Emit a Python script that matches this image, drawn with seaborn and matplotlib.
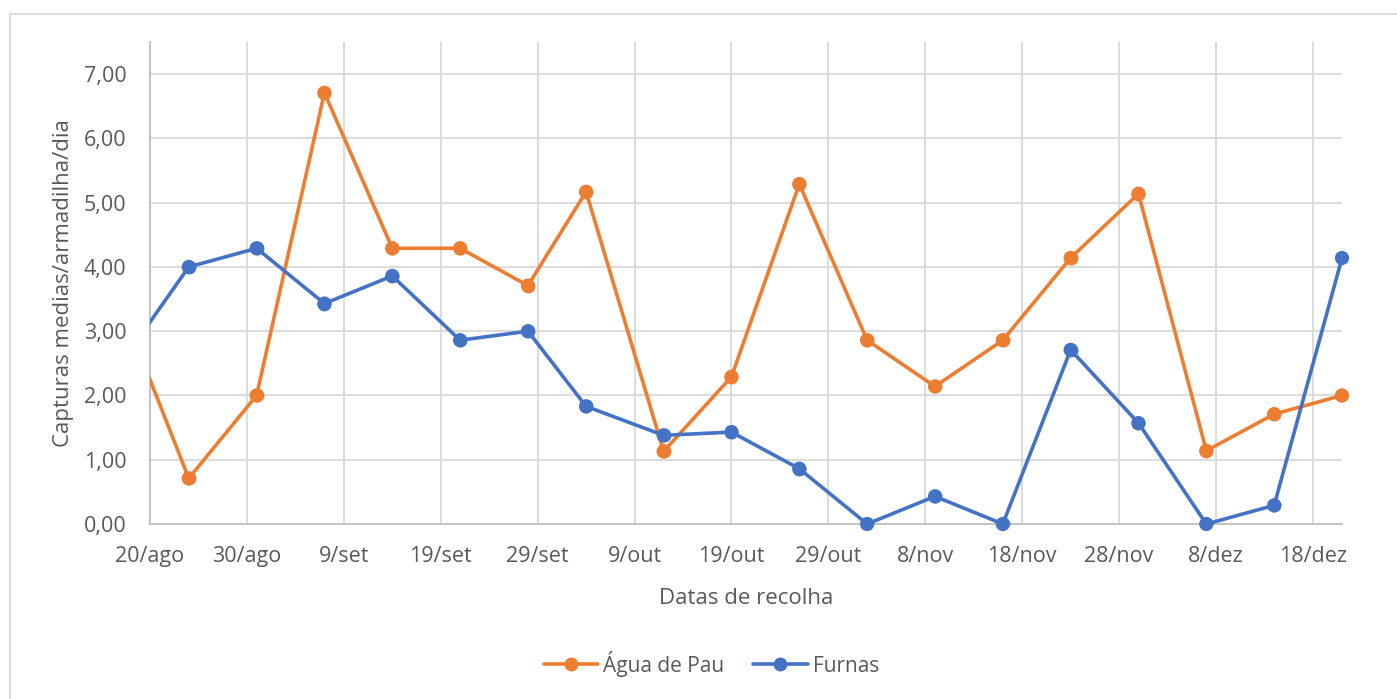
import matplotlib
matplotlib.use("Agg")
import matplotlib.pyplot as plt
from matplotlib.patches import Rectangle
import seaborn as sns
import pandas as pd

# ---- data ----
dates = ["2019-08-17", "2019-08-24", "2019-08-31", "2019-09-07", "2019-09-14", "2019-09-21",
         "2019-09-28", "2019-10-04", "2019-10-12", "2019-10-19", "2019-10-26", "2019-11-02",
         "2019-11-09", "2019-11-16", "2019-11-23", "2019-11-30", "2019-12-07", "2019-12-14",
         "2019-12-21"]
agua_de_pau = [3.40, 0.71, 2.00, 6.71, 4.29, 4.29, 3.71, 5.17, 1.13, 2.29, 5.29, 2.86,
               2.14, 2.86, 4.14, 5.14, 1.14, 1.71, 2.00]
furnas = [2.50, 4.00, 4.29, 3.43, 3.86, 2.86, 3.00, 1.83, 1.38, 1.43, 0.86, 0.00,
          0.43, 0.00, 2.71, 1.57, 0.00, 0.29, 4.14]
series_names = ["Água de Pau", "Furnas"]
tick_dates = pd.date_range("2019-08-20", "2019-12-18", freq="10D")
tick_labels = ["20/ago", "30/ago", "9/set", "19/set", "29/set", "9/out", "19/out",
               "29/out", "8/nov", "18/nov", "28/nov", "8/dez", "18/dez"]
y_ticks = [0, 1, 2, 3, 4, 5, 6, 7]
x_label = "Datas de recolha"
y_label = "Capturas medias/armadilha/dia"

colors = {"Água de Pau": "#ED7D31", "Furnas": "#4472C4"}

df = pd.DataFrame({"data": pd.to_datetime(dates), "Água de Pau": agua_de_pau, "Furnas": furnas})
long = df.melt(id_vars="data", var_name="serie", value_name="valor")

sns.set_theme(style="white")
plt.rcParams["font.family"] = ["Open Sans", "DejaVu Sans"]
text_color = "#595959"

fig = plt.figure(figsize=(13.97, 6.99), dpi=100)
W, H = 1397, 699
ax = fig.add_axes([150 / W, 1 - 524 / H, (1342 - 150) / W, (524 - 42) / H])

xmin = pd.Timestamp("2019-08-20")
xmax = pd.Timestamp("2019-12-21")

sns.lineplot(data=long, x="data", y="valor", hue="serie", hue_order=series_names,
             palette=colors, marker="o", markersize=10, markeredgewidth=0,
             linewidth=2.6, ax=ax, legend=True, zorder=3)
inrange = long[long["data"] >= xmin]
sns.scatterplot(data=inrange, x="data", y="valor", hue="serie", hue_order=series_names,
                palette=colors, s=105, linewidth=0, ax=ax, legend=False, zorder=4)
for coll in ax.collections:
    coll.set_clip_on(False)

ax.set_xlim(xmin, xmax)
ax.set_ylim(0, 7.5)
ax.set_xticks(tick_dates)
ax.set_xticklabels(tick_labels)
ax.set_yticks(y_ticks)
ax.set_yticklabels([f"{v:.2f}".replace(".", ",") for v in y_ticks])

ax.grid(True, color="#D9D9D9", linewidth=1.3, zorder=0)
ax.set_axisbelow(True)
for s in ["top", "right"]:
    ax.spines[s].set_visible(False)
for s in ["left", "bottom"]:
    ax.spines[s].set_color("#BFBFBF")
    ax.spines[s].set_linewidth(1.3)
ax.tick_params(axis="both", length=0, labelsize=15.5, colors=text_color)
ax.tick_params(axis="x", pad=16)
ax.tick_params(axis="y", pad=17)

ax.set_xlabel(x_label, fontsize=16, color=text_color, labelpad=15)
ax.set_ylabel(y_label, fontsize=16, color=text_color, labelpad=7)

handles, labels = ax.get_legend_handles_labels()
ax.legend(handles, labels, loc="center", bbox_to_anchor=(0.471, -0.29), ncol=2, frameon=False,
          fontsize=15, labelcolor=text_color, handlelength=2.6, columnspacing=1.4,
          handletextpad=0.25)

fig.patches.append(Rectangle((10 / W, -0.01), 1.02, 1 - 14 / H + 0.01, transform=fig.transFigure,
                             fill=False, edgecolor="#D9D9D9", linewidth=1.3))

fig.savefig("out.png", dpi=100)
